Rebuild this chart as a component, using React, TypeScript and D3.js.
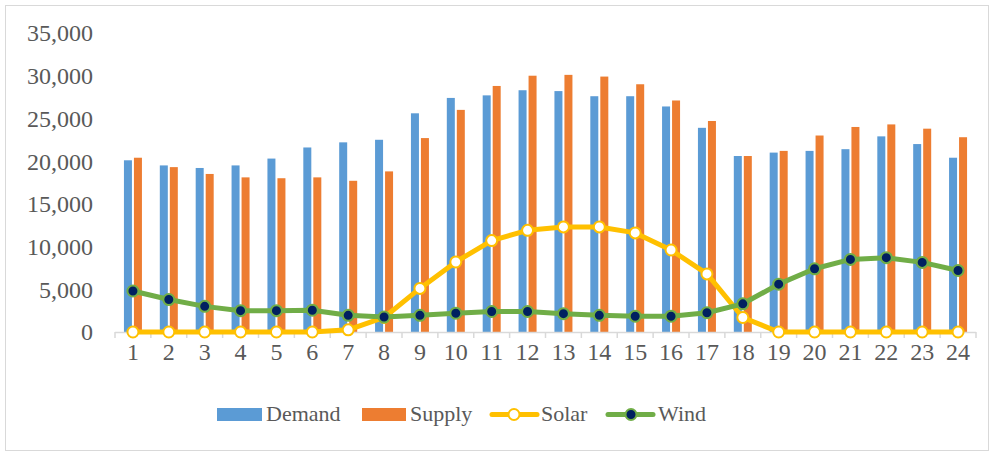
import { useEffect, useRef } from "react";
import * as d3 from "d3";

const hours = d3.range(1, 25).map(String);
const demand = [20100, 19500, 19200, 19500, 20300, 21600, 22200, 22500, 25600, 27400, 27700, 28300, 28200, 27600, 27600, 26400, 23900, 20600, 21000, 21200, 21400, 22900, 22000, 20400];
const supply = [20400, 19300, 18500, 18100, 18000, 18100, 17700, 18800, 22700, 26000, 28800, 30000, 30100, 29900, 29000, 27100, 24700, 20600, 21200, 23000, 24000, 24300, 23800, 22800];
const solar = [0, 0, 0, 0, 0, 0, 250, 1700, 5100, 8200, 10700, 11900, 12300, 12300, 11600, 9600, 6800, 1700, 0, 0, 0, 0, 0, 0];
const wind = [4800, 3800, 3000, 2500, 2500, 2550, 1950, 1750, 1950, 2200, 2400, 2400, 2150, 1950, 1850, 1850, 2250, 3300, 5600, 7400, 8500, 8700, 8150, 7200];
const yTicks = [0, 5000, 10000, 15000, 20000, 25000, 30000, 35000];

const COLORS = { demand: "#5B9BD5", supply: "#ED7D31", solar: "#FFC000", wind: "#70AD47", windDot: "#002060" };
const FONT = "'Liberation Serif', serif";
const TEXT = "#595959";

const App = () => {
  const svgRef = useRef<SVGSVGElement>(null);
  const width = 992;
  const height = 452;

  useEffect(() => {
    const svg = d3.select(svgRef.current);
    svg.selectAll("*").remove();

    // chart frame
    svg.append("rect")
      .attr("x", 5.5).attr("y", 5.5)
      .attr("width", 983).attr("height", 445)
      .attr("fill", "#fff").attr("stroke", "#d9d9d9");

    const x = d3.scaleBand().domain(hours).range([115, 976]);
    const y = d3.scaleLinear().domain([0, 35000]).range([332, 33]);
    const cx = (i: number) => x(hours[i])! + x.bandwidth() / 2;

    // y labels
    svg.append("g")
      .selectAll("text")
      .data(yTicks)
      .join("text")
      .attr("x", 93)
      .attr("y", d => y(d))
      .attr("dy", "0.35em")
      .attr("text-anchor", "end")
      .attr("font-family", FONT)
      .attr("font-size", 24)
      .attr("fill", TEXT)
      .text(d => d3.format(",")(d));

    // bars
    const barW = 8;
    svg.append("g").attr("fill", COLORS.demand)
      .selectAll("rect").data(demand).join("rect")
      .attr("x", (d, i) => cx(i) - 9)
      .attr("y", d => y(d))
      .attr("width", barW)
      .attr("height", d => y(0) - y(d));
    svg.append("g").attr("fill", COLORS.supply)
      .selectAll("rect").data(supply).join("rect")
      .attr("x", (d, i) => cx(i) + 1)
      .attr("y", d => y(d))
      .attr("width", barW)
      .attr("height", d => y(0) - y(d));

    // x axis line + ticks
    svg.append("line")
      .attr("x1", 115).attr("x2", 976)
      .attr("y1", 332.5).attr("y2", 332.5)
      .attr("stroke", "#d9d9d9").attr("stroke-width", 1.5);
    svg.append("g")
      .selectAll("line")
      .data(d3.range(0, 25))
      .join("line")
      .attr("x1", i => 115 + i * x.step())
      .attr("x2", i => 115 + i * x.step())
      .attr("y1", 332).attr("y2", 338)
      .attr("stroke", "#d9d9d9").attr("stroke-width", 1.5);

    svg.append("g")
      .selectAll("text")
      .data(hours)
      .join("text")
      .attr("x", (d, i) => cx(i))
      .attr("y", 360)
      .attr("text-anchor", "middle")
      .attr("font-family", FONT)
      .attr("font-size", 24)
      .attr("fill", TEXT)
      .text(d => d);

    const line = d3.line<number>().x((d, i) => cx(i)).y(d => y(d));

    // solar
    svg.append("path")
      .attr("d", line(solar))
      .attr("fill", "none")
      .attr("stroke", COLORS.solar)
      .attr("stroke-width", 5)
      .attr("stroke-linejoin", "round");
    svg.append("g")
      .selectAll("circle").data(solar).join("circle")
      .attr("cx", (d, i) => cx(i)).attr("cy", d => y(d))
      .attr("r", 5.5)
      .attr("fill", "#fff")
      .attr("stroke", COLORS.solar).attr("stroke-width", 2);

    // wind
    svg.append("path")
      .attr("d", line(wind))
      .attr("fill", "none")
      .attr("stroke", COLORS.wind)
      .attr("stroke-width", 5)
      .attr("stroke-linejoin", "round");
    svg.append("g")
      .selectAll("circle").data(wind).join("circle")
      .attr("cx", (d, i) => cx(i)).attr("cy", d => y(d))
      .attr("r", 5.5)
      .attr("fill", COLORS.windDot)
      .attr("stroke", COLORS.wind).attr("stroke-width", 2);

    // legend
    const lg = svg.append("g").attr("font-family", FONT).attr("font-size", 22).attr("fill", TEXT);
    lg.append("rect").attr("x", 217).attr("y", 408).attr("width", 45).attr("height", 13).attr("fill", COLORS.demand);
    lg.append("text").attr("x", 266).attr("y", 421).text("Demand");
    lg.append("rect").attr("x", 362).attr("y", 408).attr("width", 44).attr("height", 13).attr("fill", COLORS.supply);
    lg.append("text").attr("x", 410).attr("y", 421).text("Supply");
    lg.append("line").attr("x1", 492).attr("x2", 537).attr("y1", 414.5).attr("y2", 414.5)
      .attr("stroke", COLORS.solar).attr("stroke-width", 5).attr("stroke-linecap", "round");
    lg.append("circle").attr("cx", 514).attr("cy", 414.5).attr("r", 5.5)
      .attr("fill", "#fff").attr("stroke", COLORS.solar).attr("stroke-width", 2);
    lg.append("text").attr("x", 541).attr("y", 421).text("Solar");
    lg.append("line").attr("x1", 608).attr("x2", 653).attr("y1", 414.5).attr("y2", 414.5)
      .attr("stroke", COLORS.wind).attr("stroke-width", 5).attr("stroke-linecap", "round");
    lg.append("circle").attr("cx", 631).attr("cy", 414.5).attr("r", 5.5)
      .attr("fill", COLORS.windDot).attr("stroke", COLORS.wind).attr("stroke-width", 2);
    lg.append("text").attr("x", 658).attr("y", 421).text("Wind");
  }, []);

  return (
    <svg ref={svgRef} width={width} height={height}
      style={{ position: "absolute", left: 0, top: 0, display: "block" }}></svg>
  );
};

export default App;
